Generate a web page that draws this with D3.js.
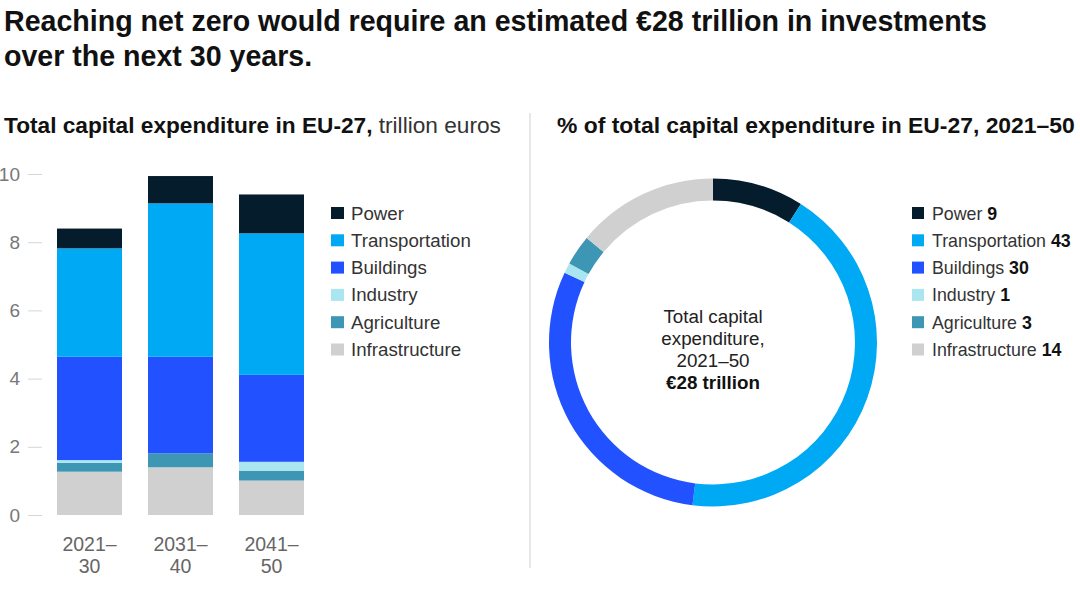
<!DOCTYPE html>
<html>
<head>
<meta charset="utf-8">
<script src="https://cdn.jsdelivr.net/npm/d3@7"></script>
<style>
  html, body { margin: 0; padding: 0; background: #fff; }
  svg { display: block; font-family: "Liberation Sans", Arial, Helvetica, sans-serif; }
</style>
</head>
<body>
<svg id="chart" width="1080" height="603"></svg>
<script>
// ---------- Data ----------
const periods = ["2021–30", "2031–40", "2041–50"];
const periodLines = [["2021–", "30"], ["2031–", "40"], ["2041–", "50"]];
const sectors = ["Power", "Transportation", "Buildings", "Industry", "Agriculture", "Infrastructure"];
const power          = [0.58, 0.80, 1.14];
const transportation = [3.18, 4.50, 4.15];
const buildings      = [3.03, 2.83, 2.55];
const industry       = [0.08, 0.00, 0.26];
const agriculture    = [0.26, 0.41, 0.29];
const infrastructure = [1.27, 1.40, 1.01];
const yTicks = [0, 2, 4, 6, 8, 10];
const shares = [9, 43, 30, 1, 3, 14];
const colors = ["#051C2C", "#00A9F4", "#2251FF", "#AAE6F0", "#3C96B4", "#D0D0D0"];
const titleLines = ["Reaching net zero would require an estimated €28 trillion in investments", "over the next 30 years."];
const centerLines = ["Total capital", "expenditure,", "2021–50"];
const centerBold = "€28 trillion";

// ---------- Setup ----------
const svg = d3.select("#chart");
const seriesBySector = { Power: power, Transportation: transportation, Buildings: buildings,
  Industry: industry, Agriculture: agriculture, Infrastructure: infrastructure };
const color = d3.scaleOrdinal().domain(sectors).range(colors);

function fit(sel, target) {
  const node = sel.node();
  const fs = parseFloat(sel.attr("font-size"));
  const w = node.getComputedTextLength();
  if (w > 0) sel.attr("font-size", (fs * target / w).toFixed(2));
}

// Title
const t1 = svg.append("text").attr("x", 4).attr("y", 31).attr("font-size", 26)
  .attr("font-weight", "bold").attr("fill", "#111").text(titleLines[0]);
fit(t1, 983);
const t2 = svg.append("text").attr("x", 4).attr("y", 66).attr("font-size", t1.attr("font-size"))
  .attr("font-weight", "bold").attr("fill", "#111").text(titleLines[1]);

// Subtitles
const s1 = svg.append("text").attr("x", 4).attr("y", 133).attr("font-size", 19).attr("fill", "#111");
s1.append("tspan").attr("font-weight", "bold").text("Total capital expenditure in EU-27,");
s1.append("tspan").attr("fill", "#333").text(" trillion euros");
fit(s1, 497);
const s2 = svg.append("text").attr("x", 557).attr("y", 133).attr("font-size", 19)
  .attr("font-weight", "bold").attr("fill", "#111")
  .text("% of total capital expenditure in EU-27, 2021–50");
fit(s2, 518);

// Divider
svg.append("line").attr("x1", 530).attr("x2", 530).attr("y1", 113).attr("y2", 568)
  .attr("stroke", "#cfcfcf").attr("stroke-width", 1);

// ---------- Stacked bars ----------
const x = d3.scaleBand().domain(periods).range([57, 304]).paddingInner(26 / 91).paddingOuter(0);
const y = d3.scaleLinear().domain([0, 10]).range([515, 174]);

const tableRows = periods.map((p, i) => {
  const row = { period: p };
  sectors.forEach(s => row[s] = seriesBySector[s][i]);
  return row;
});
const stackOrder = sectors.slice().reverse(); // bottom: Infrastructure ... top: Power
const stacked = d3.stack().keys(stackOrder)(tableRows);

svg.append("g").selectAll("g").data(stacked).join("g")
  .attr("fill", d => color(d.key))
  .selectAll("rect").data(d => d).join("rect")
  .attr("x", d => x(d.data.period))
  .attr("width", x.bandwidth())
  .attr("y", d => y(d[1]))
  .attr("height", d => Math.max(0, y(d[0]) - y(d[1])));

const yAxis = svg.append("g").attr("transform", "translate(42,0)")
  .call(d3.axisLeft(y).tickValues(yTicks).tickSize(14).tickPadding(8).tickFormat(d3.format("d")));
yAxis.select(".domain").remove();
yAxis.selectAll(".tick line").attr("stroke", "#d6d6d6");
yAxis.selectAll(".tick text").attr("fill", "#777").attr("font-size", 19)
  .attr("font-family", "\"Liberation Sans\", Arial, sans-serif");

const xl = svg.append("g").selectAll("text").data(periods).join("text")
  .attr("text-anchor", "middle").attr("font-size", 19.5).attr("fill", "#666")
  .attr("transform", d => `translate(${x(d) + x.bandwidth() / 2},0)`);
xl.each(function (d, i) {
  const sel = d3.select(this);
  periodLines[i].forEach((ln, j) => {
    sel.append("tspan").attr("x", 0).attr("y", 551 + j * 22).text(ln);
  });
});

// Left legend
const legY = d3.scalePoint().domain(sectors).range([213, 349.5]);
const lg = svg.append("g").selectAll("g").data(sectors).join("g")
  .attr("transform", d => `translate(331,${legY(d)})`);
lg.append("rect").attr("x", 0).attr("y", -6).attr("width", 13).attr("height", 12)
  .attr("fill", d => color(d));
lg.append("text").attr("x", 20).attr("y", 6.5).attr("font-size", 18.7).attr("fill", "#333").text(d => d);

// ---------- Donut ----------
const cx = 713, cy = 342.5;
const pie = d3.pie().sort(null).value(d => d.v).startAngle(0).endAngle(2 * Math.PI);
const arcs = pie(sectors.map((s, i) => ({ s, v: shares[i] })));
const arc = d3.arc().innerRadius(142).outerRadius(164);
svg.append("g").attr("transform", `translate(${cx},${cy})`)
  .selectAll("path").data(arcs).join("path")
  .attr("d", arc).attr("fill", d => color(d.data.s));

const ct = svg.append("text").attr("text-anchor", "middle").attr("font-size", 18.8).attr("fill", "#222");
centerLines.forEach((ln, j) => ct.append("tspan").attr("x", cx).attr("y", 323 + j * 22).text(ln));
ct.append("tspan").attr("x", cx).attr("y", 323 + 3 * 22).attr("font-weight", "bold").attr("fill", "#111").text(centerBold);

// Right legend
const rg = svg.append("g").selectAll("g").data(sectors).join("g")
  .attr("transform", d => `translate(912,${legY(d)})`);
rg.append("rect").attr("x", 0).attr("y", -6).attr("width", 12).attr("height", 12)
  .attr("fill", d => color(d));
const rt = rg.append("text").attr("x", 20).attr("y", 6.5).attr("font-size", 17.8).attr("fill", "#333");
rt.append("tspan").text(d => d + " ");
rt.append("tspan").attr("font-weight", "bold").attr("fill", "#111").text(d => shares[sectors.indexOf(d)]);
</script>
</body>
</html>
